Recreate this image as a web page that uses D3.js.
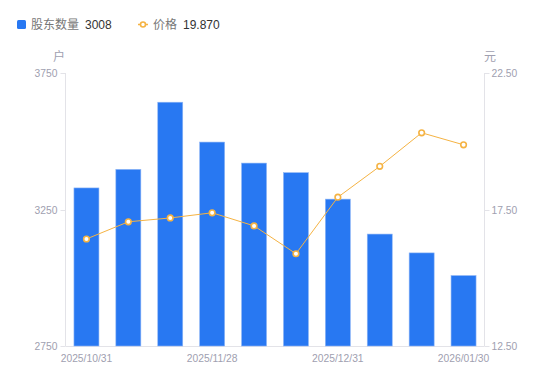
<!DOCTYPE html>
<html><head><meta charset="utf-8">
<script src="https://cdn.jsdelivr.net/npm/d3@7"></script>
<style>body{margin:0;background:#fff;font-family:"Noto Sans CJK SC","Noto Sans",sans-serif;}</style>
</head><body><svg id="c" width="550" height="381"></svg>
<script>
const categories = ["2025/10/31","2025/11/10","2025/11/20","2025/11/28","2025/12/10","2025/12/19","2025/12/31","2026/01/09","2026/01/20","2026/01/30"];
const holders = [3329, 3397, 3643, 3497, 3420, 3385, 3288, 3160, 3091, 3008];
const prices = [16.42, 17.05, 17.19, 17.38, 16.90, 15.88, 17.95, 19.08, 20.31, 19.87];
const leftTicks = [2750, 3250, 3750];
const rightTicks = [12.5, 17.5, 22.5];
const shownLabels = ["2025/10/31","2025/11/28","2025/12/31","2026/01/30"];

const svg = d3.select("#c");
const L = 65.5, R = 484.5, T = 73, B = 346;
const xc = d3.scaleBand().domain(categories).range([L, R]);
const yL = d3.scaleLinear().domain([2750, 3750]).range([B, T]);
const yR = d3.scaleLinear().domain([12.5, 22.5]).range([B, T]);
const gray = "#a0a0b0", lineCol = "#e3e3e8", blue = "#2878f2", orange = "#f5b343";
const numFont = "'Liberation Sans', Arial, sans-serif";

const ax = svg.append("g").attr("font-size", 10.3).attr("fill", gray);
svg.append("line").attr("x1", L).attr("x2", L).attr("y1", T).attr("y2", B).attr("stroke", lineCol);
svg.append("line").attr("x1", R).attr("x2", R).attr("y1", T).attr("y2", B).attr("stroke", lineCol);
svg.append("line").attr("x1", L).attr("x2", R).attr("y1", B + 0.5).attr("y2", B + 0.5).attr("stroke", lineCol);
leftTicks.forEach(v => {
  const y = Math.round(yL(v)) + 0.5;
  svg.append("line").attr("x1", L - 5).attr("x2", L).attr("y1", y).attr("y2", y).attr("stroke", lineCol);
  ax.append("text").attr("x", L - 8).attr("y", y).attr("dy", "0.36em").attr("text-anchor", "end").attr("font-family", numFont).text(v);
});
rightTicks.forEach(v => {
  const y = Math.round(yR(v)) + 0.5;
  svg.append("line").attr("x1", R).attr("x2", R + 5).attr("y1", y).attr("y2", y).attr("stroke", lineCol);
  ax.append("text").attr("x", R + 7).attr("y", y).attr("dy", "0.36em").attr("text-anchor", "start").attr("font-family", numFont).text(v.toFixed(2));
});
shownLabels.forEach(c => {
  ax.append("text").attr("x", xc(c) + xc.bandwidth() / 2).attr("y", B + 16).attr("text-anchor", "middle").attr("font-family", numFont).text(c);
});
ax.append("text").attr("x", 59).attr("y", 61).attr("text-anchor", "middle").attr("font-size", 12).text("户");
ax.append("text").attr("x", 490).attr("y", 61).attr("text-anchor", "middle").attr("font-size", 12).text("元");

svg.append("g").selectAll("rect").data(categories).join("rect")
  .attr("x", (c) => xc(c) + xc.bandwidth() / 2 - 12.5)
  .attr("width", 25)
  .attr("y", (c, i) => yL(holders[i]))
  .attr("height", (c, i) => B - yL(holders[i]))
  .attr("fill", blue).attr("stroke", "#8fb6f5").attr("stroke-width", 0.6);

const px = c => xc(c) + xc.bandwidth() / 2;
svg.append("path").datum(categories)
  .attr("d", d3.line().x(px).y((c, i) => yR(prices[i])))
  .attr("fill", "none").attr("stroke", orange).attr("stroke-width", 1);
svg.append("g").selectAll("circle").data(categories).join("circle")
  .attr("cx", px).attr("cy", (c, i) => yR(prices[i])).attr("r", 2.8)
  .attr("fill", "#fff").attr("stroke", orange).attr("stroke-width", 1.6);

const lg = svg.append("g").attr("font-size", 12);
lg.append("rect").attr("x", 17).attr("y", 20).attr("width", 9).attr("height", 9).attr("rx", 1.5).attr("fill", blue);
lg.append("text").attr("x", 31).attr("y", 29).attr("fill", "#777").text("股东数量");
lg.append("text").attr("x", 85).attr("y", 29).attr("fill", "#333").attr("font-family", numFont).text(holders[holders.length - 1]);
lg.append("line").attr("x1", 138).attr("x2", 148).attr("y1", 24.5).attr("y2", 24.5).attr("stroke", orange).attr("stroke-width", 1.5);
lg.append("circle").attr("cx", 143).attr("cy", 24.5).attr("r", 2.5).attr("fill", "#fff").attr("stroke", orange).attr("stroke-width", 1.6);
lg.append("text").attr("x", 153).attr("y", 29).attr("fill", "#777").text("价格");
lg.append("text").attr("x", 183).attr("y", 29).attr("fill", "#333").attr("font-family", numFont).text(prices[prices.length - 1].toFixed(3));
</script></body></html>
